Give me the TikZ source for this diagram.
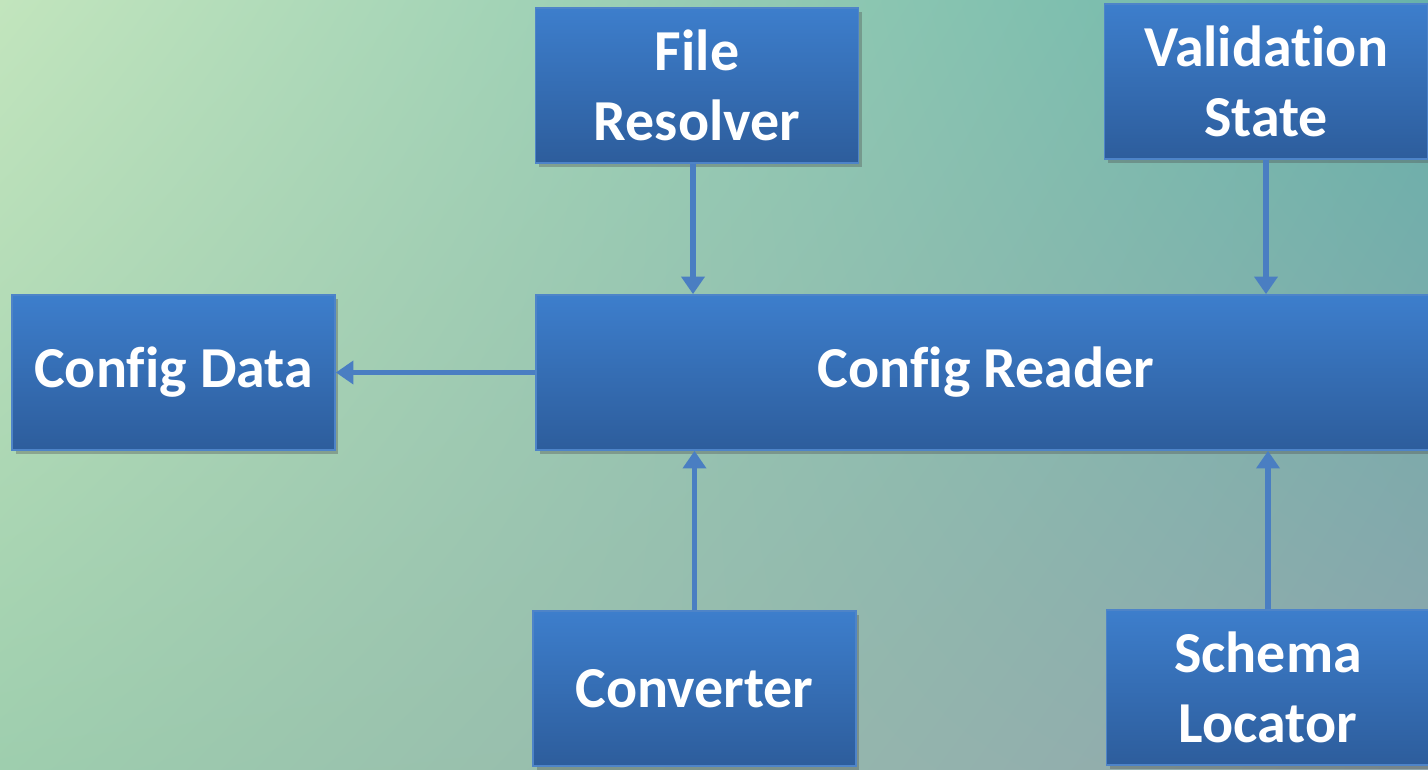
\documentclass[tikz,border=0pt]{standalone}
\usepackage{fontspec}
\setmainfont[Ligatures=NoCommon]{Carlito}
\usetikzlibrary{arrows.meta,shadows,shadings}
\definecolor{bgtl}{RGB}{194,229,189}
\definecolor{bgtr}{RGB}{104,178,170}
\definecolor{bgbl}{RGB}{158,206,174}
\definecolor{bgbr}{RGB}{142,164,172}
\definecolor{boxtop}{RGB}{61,126,204}
\definecolor{boxbot}{RGB}{45,93,156}
\definecolor{boxline}{RGB}{78,132,200}
\definecolor{arrowblue}{RGB}{74,126,194}
\tikzset{
	block/.style={draw=boxline,line width=1pt,top color=boxtop,bottom color=boxbot,
		text=white,align=center,inner sep=0pt,minimum width=6.46cm,minimum height=3.1cm,
		font=\bfseries\fontsize{33}{40}\selectfont,
		drop shadow={shadow xshift=2pt,shadow yshift=-2pt,opacity=.35,fill=black!70}},
	link/.style={draw=arrowblue,line width=3.2pt,-{Triangle[length=10pt,width=13pt]}}
}
\begin{document}
\begin{tikzpicture}[x=0.02cm,y=-0.02cm]
	\useasboundingbox (0,0) rectangle (1428,769);
	\shade[upper left=bgtl,upper right=bgtr,lower left=bgbl,lower right=bgbr] (0,0) rectangle (1428,769);
	\begin{scope}
	\clip (0,0) rectangle (1428,769);
	\node[block] (resolver) at (697,85.5) {File\\Resolver};
	\node[block] (state) at (1266,81.5) {Validation\\State};
	\node[block] (data) at (173.5,372.5) {Config Data};
	\node[block,minimum width=18cm] (reader) at (986,372.5) {Config Reader};
	\node[block] (converter) at (694.5,688.5) {Converter};
	\node[block] (locator) at (1268,687.5) {Schema\\Locator};
	% connectors
	\draw[link] ([xshift=-0.08cm]resolver.south) -- ([xshift=-0.08cm]resolver.south |- reader.north);
	\draw[link] (state.south) -- (state.south |- reader.north);
	\draw[link] (reader.west) -- (data.east);
	\draw[link] (converter.north) -- (converter.north |- reader.south);
	\draw[link] (locator.north) -- (locator.north |- reader.south);
	\end{scope}
\end{tikzpicture}
\end{document}
